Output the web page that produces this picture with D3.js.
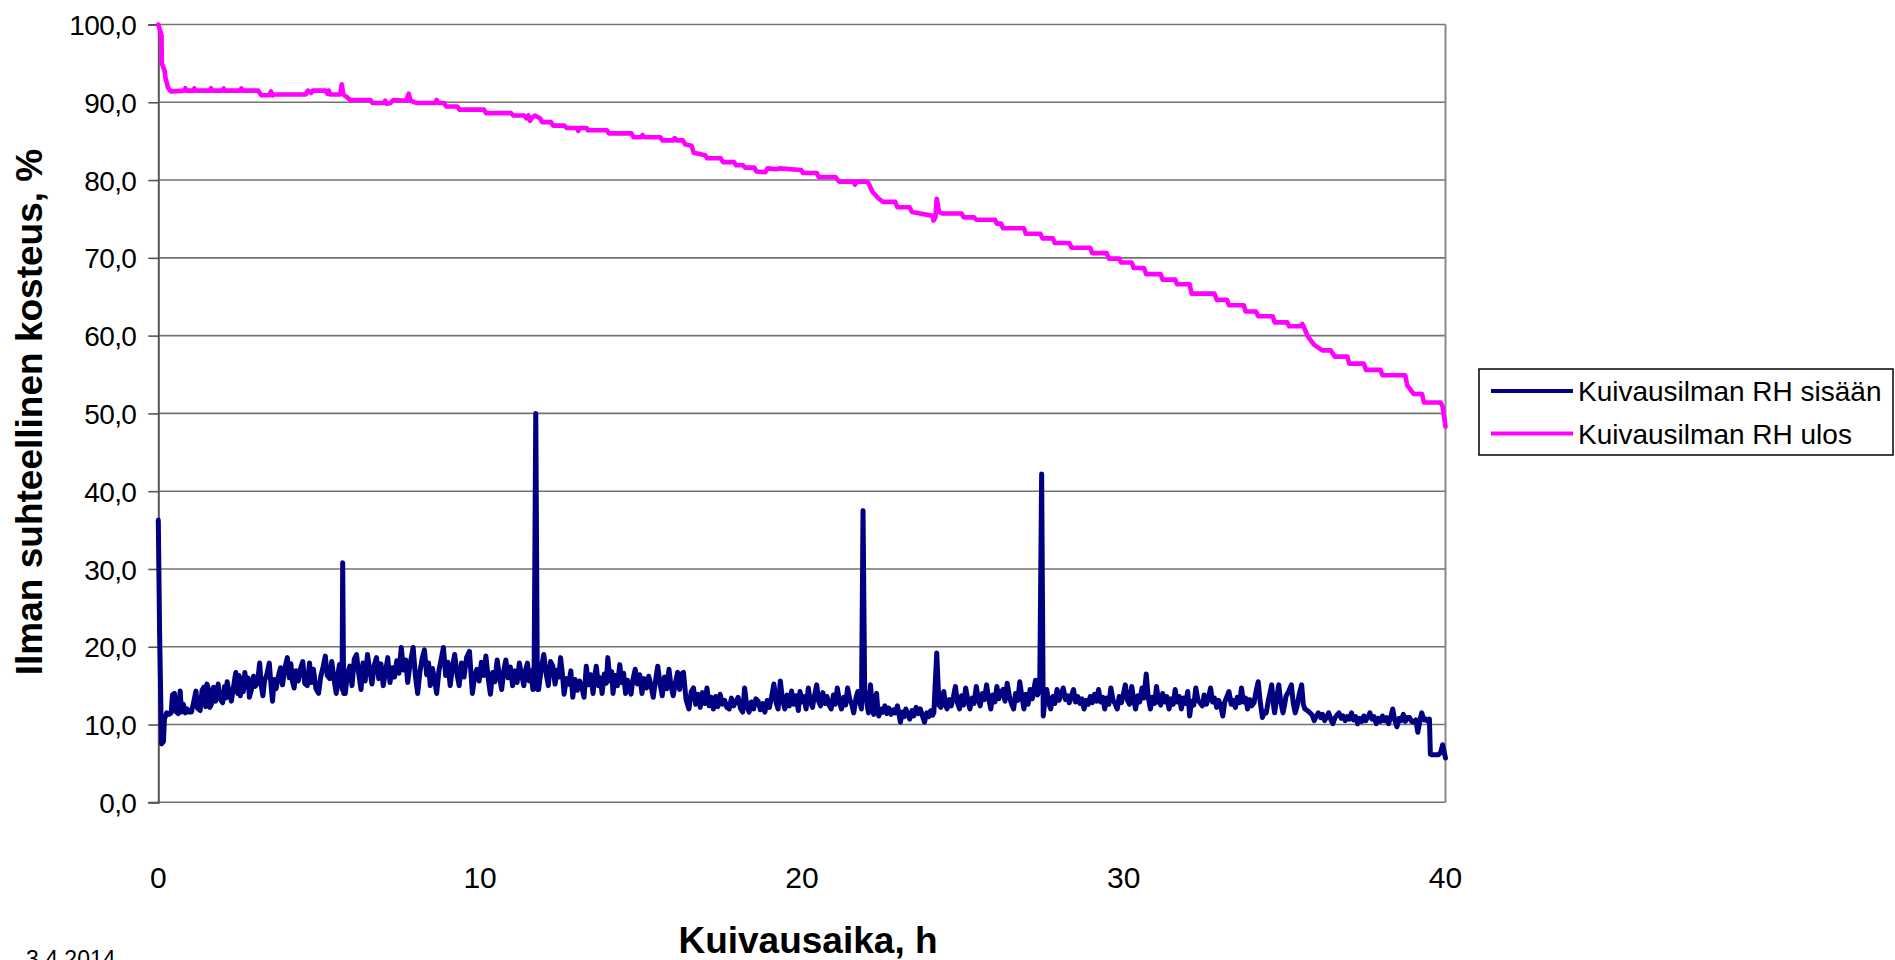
<!DOCTYPE html>
<html>
<head>
<meta charset="utf-8">
<script src="https://cdn.jsdelivr.net/npm/d3@7/dist/d3.min.js"></script>
<style>
  html, body { margin: 0; padding: 0; background: #fff; }
  svg { display: block; }
  text { font-family: "Liberation Sans", Arial, sans-serif; fill: #000; }
</style>
</head>
<body>
<svg id="chart" width="1895" height="960"></svg>
<script>
// Outgoing drying air: [drying time h, relative humidity %]
const rhOutlet = [
  [0,100],[0.1,98.6],[0.11,95],[0.2,94],[0.22,93.2],[0.3,91.9],[0.39,91.4],[0.8,91.5],[0.84,91.8],[0.88,91.5],
  [1.1,91.5],[1.12,91.8],[1.15,91.5],[1.6,91.5],[1.64,91.8],[1.68,91.5],[2.0,91.5],[2.03,91.8],[2.06,91.5],
  [2.55,91.5],[2.58,91.8],[2.62,91.5],[3.1,91.5],[3.2,90.9],[3.45,90.9],[3.5,91.4],[3.55,90.9],[3.61,91.0],
  [4.58,91.0],[4.65,91.5],[4.75,91.2],[4.8,91.5],[5.2,91.5],[5.25,91.1],[5.3,91.5],[5.34,91.0],[5.65,91.0],
  [5.7,92.3],[5.75,91.0],[5.85,90.7],[5.96,90.3],[6.59,90.3],[6.66,89.9],[7.0,89.9],[7.05,90.2],[7.1,89.8],
  [7.21,89.9],[7.3,90.3],[7.7,90.2],[7.78,91.1],[7.84,90.2],[8.04,89.9],[8.6,89.9],[8.65,90.3],[8.7,89.9],
  [8.88,89.9],[8.95,89.45],[9.29,89.45],[9.36,89.05],[10.12,89.05],[10.19,88.6],[10.96,88.6],[11.03,88.3],
  [11.37,88.3],[11.44,87.95],[11.5,88.3],[11.55,87.6],[11.6,87.95],[11.7,88.3],[11.86,87.95],[11.93,87.45],
  [12.2,87.45],[12.27,87.0],[12.62,87.0],[12.69,86.7],[13.0,86.7],[13.05,86.3],[13.1,86.7],[13.31,86.7],
  [13.35,86.4],[13.94,86.4],[14.0,86.0],[14.7,86.0],[14.77,85.5],[15.0,85.5],[15.05,85.8],[15.1,85.5],
  [15.6,85.5],[15.67,85.1],[16.0,85.1],[16.05,85.4],[16.1,85.1],[16.3,85.1],[16.37,84.6],[16.57,84.4],
  [16.64,83.5],[16.99,83.2],[17.06,82.8],[17.48,82.8],[17.55,82.3],[17.89,82.3],[17.96,81.9],[18.17,81.9],
  [18.24,81.6],[18.52,81.6],[18.59,81.1],[18.86,81.0],[18.93,81.5],[19.2,81.4],[19.3,81.5],[19.97,81.3],
  [20.04,80.9],[20.46,80.9],[20.52,80.4],[21.04,80.4],[21.16,79.8],[21.6,79.8],[21.65,79.4],[21.7,79.8],
  [22.0,79.8],[22.07,79.6],[22.19,78.5],[22.39,77.6],[22.52,77.2],[22.9,77.2],[22.97,76.5],[23.35,76.5],
  [23.42,75.9],[23.8,75.6],[24.06,75.4],[24.09,74.8],[24.15,75.2],[24.19,77.6],[24.26,75.9],[24.38,75.7],
  [24.96,75.7],[25.03,75.2],[25.35,75.2],[25.42,74.9],[26.0,74.9],[26.06,74.4],[26.19,74.4],[26.25,73.8],
  [26.9,73.8],[26.96,73.1],[27.41,73.1],[27.48,72.5],[27.8,72.5],[27.86,71.9],[28.31,71.9],[28.38,71.3],
  [28.96,71.3],[29.02,70.6],[29.47,70.6],[29.54,69.9],[29.86,69.9],[29.92,69.4],[30.25,69.4],[30.31,68.7],
  [30.63,68.7],[30.7,67.9],[31.15,67.9],[31.21,67.2],[31.6,67.2],[31.66,66.6],[32.05,66.6],[32.11,65.4],
  [32.82,65.4],[32.89,64.6],[33.21,64.6],[33.27,63.9],[33.73,63.9],[33.79,63.1],[34.11,63.1],[34.18,62.5],
  [34.63,62.5],[34.69,61.7],[35.08,61.7],[35.14,61.2],[35.5,61.2],[35.55,61.5],[35.6,61.1],[35.72,59.9],
  [35.92,58.8],[36.17,58.1],[36.43,58.1],[36.56,57.3],[36.95,57.3],[37.01,56.4],[37.46,56.4],[37.53,55.6],
  [37.98,55.6],[38.04,54.9],[38.75,54.9],[38.81,53.6],[39.01,52.5],[39.27,52.5],[39.33,51.4],[39.85,51.4],
  [39.91,50.9],[40.0,48.3]
];

// Incoming drying air: [drying time h, relative humidity %]
const rhInlet = [
  [0,36.3],[0.04,22],[0.1,7.5],[0.16,7.8],[0.19,10.7],[0.26,11.5],[0.33,11.3],[0.4,11.5],[0.44,13.8],[0.5,14.0],
  [0.56,11.6],[0.62,11.4],[0.68,14.3],[0.72,11.6],[0.78,12.6],[0.84,11.5],[0.9,12.0],[0.96,11.6],[1.03,11.6],[1.1,12.9],[1.17,14.3],
  [1.22,12.1],[1.3,11.8],[1.36,14.4],[1.42,14.8],[1.47,12.3],[1.51,15.2],[1.56,14.6],[1.6,12.2],[1.65,12.6],[1.72,14.8],[1.78,13.0],
  [1.86,15.2],[1.92,13.3],[2.0,12.8],[2.06,14.9],[2.1,13.4],[2.14,15.5],[2.2,14.2],[2.27,13.0],[2.33,14.6],[2.38,16.0],
  [2.41,16.7],[2.47,14.0],[2.51,16.3],[2.55,13.7],[2.6,15.9],[2.64,14.2],[2.69,16.7],[2.74,14.8],[2.79,16.0],[2.83,13.5],[2.9,14.6],[2.96,16.2],
  [3.01,14.9],[3.08,15.3],[3.15,17.9],[3.2,15.0],[3.25,13.7],[3.3,15.6],[3.37,16.4],[3.45,17.9],[3.5,15.2],[3.55,13.0],[3.6,15.8],
  [3.66,14.6],[3.73,16.2],[3.8,17.3],[3.86,15.1],[3.92,17.0],[4.01,18.6],
  [4.07,16.0],[4.12,17.8],[4.17,15.5],[4.22,14.7],[4.28,16.9],[4.35,15.6],[4.42,17.2],[4.49,18.1],[4.55,15.3],[4.63,15.0],[4.7,17.9],
  [4.76,15.4],[4.82,17.1],[4.9,14.6],[4.98,14.0],
  [5.05,16.2],[5.12,17.4],[5.19,18.8],[5.25,16.3],[5.33,15.9],[5.39,18.1],[5.46,15.8],[5.53,14.0],[5.58,16.4],[5.63,17.7],[5.71,14.5],
  [5.73,30.8],[5.76,14.0],
  [5.81,14.0],[5.88,16.6],[5.95,17.5],[6.02,15.0],[6.09,18.4],[6.16,19.0],[6.22,16.8],[6.3,14.5],[6.36,17.9],[6.43,15.6],[6.5,19.0],
  [6.57,17.0],[6.64,15.2],[6.71,17.6],[6.78,18.6],[6.85,15.9],[6.92,17.8],[6.99,15.0],[7.06,16.7],[7.13,18.6],[7.2,15.4],[7.27,17.3],
  [7.34,16.1],[7.41,18.2],[7.48,16.6],
  [7.55,19.9],[7.62,17.0],[7.69,18.3],[7.75,15.4],[7.82,17.7],[7.92,19.9],[7.99,16.2],[8.06,14.0],[8.13,16.8],[8.2,18.5],[8.27,19.6],
  [8.34,16.4],[8.4,17.9],[8.45,15.0],[8.52,17.2],[8.58,15.9],[8.65,14.0],[8.72,16.9],[8.79,18.4],[8.86,19.9],[8.93,16.3],[9.0,18.0],
  [9.07,15.0],[9.14,17.4],[9.21,19.0],[9.28,16.5],[9.35,15.0],[9.42,17.9],[9.5,16.1],[9.58,18.6],[9.67,19.4],[9.76,14.0],[9.83,16.2],
  [9.9,17.1],[9.97,15.6],[10.04,18.0],[10.11,16.3],[10.18,18.8],[10.25,16.0],[10.32,13.9],[10.39,16.7],[10.46,15.5],
  [10.53,18.3],[10.6,16.2],[10.67,14.5],[10.74,17.0],[10.8,18.3],[10.87,16.0],[10.94,17.4],[11.01,15.0],[11.08,16.9],[11.15,15.4],
  [11.22,17.9],[11.29,16.4],[11.36,15.0],[11.42,17.1],[11.47,17.9],[11.53,15.6],[11.58,16.9],[11.64,14.5],[11.68,17.9],
  [11.73,50.0],[11.78,14.5],
  [11.82,14.5],[11.9,17.2],[11.98,19.0],[12.05,16.6],[12.12,15.0],[12.19,18.1],[12.26,17.5],[12.33,15.2],[12.4,17.0],[12.45,16.1],
  [12.5,18.6],[12.56,16.4],
  [12.61,13.9],[12.68,15.9],[12.75,15.2],[12.82,16.9],[12.88,13.5],[12.95,15.8],[13.02,14.4],[13.09,15.6],[13.16,14.8],[13.23,13.5],
  [13.3,17.5],[13.37,15.1],[13.44,16.4],[13.51,14.0],[13.56,16.2],[13.61,17.5],[13.68,15.0],[13.74,16.0],[13.79,14.0],[13.86,16.5],
  [13.92,15.3],[13.97,18.6],
  [14.04,15.6],[14.09,16.8],[14.13,14.0],[14.2,16.3],[14.27,15.0],[14.34,17.7],[14.4,15.4],[14.46,16.6],[14.52,14.0],[14.58,15.7],
  [14.63,14.8],[14.69,13.9],[14.75,15.8],[14.82,17.1],[14.89,15.2],[14.96,16.4],[15.03,14.0],[15.1,15.9],[15.17,14.7],[15.24,16.2],
  [15.31,15.0],[15.38,13.5],[15.45,15.6],[15.52,17.5],[15.59,15.3],[15.66,13.7],[15.73,16.1],[15.8,14.6],[15.87,17.1],[15.93,15.0],
  [16.0,13.7],[16.07,15.4],[16.14,16.7],[16.2,14.5],[16.26,16.5],[16.32,16.7],
  [16.4,13.2],[16.49,12.0],[16.56,14.2],[16.63,14.7],[16.7,12.6],[16.77,13.9],[16.84,12.2],[16.91,14.1],[16.98,12.7],
  [17.05,14.7],[17.12,12.4],[17.18,13.5],[17.25,12.0],[17.32,13.6],[17.39,12.3],[17.46,13.9],[17.53,12.6],[17.6,13.1],[17.67,12.2],
  [17.74,12.0],[17.81,13.4],[17.88,12.4],[17.95,13.0],[18.02,13.5],[18.09,12.1],[18.16,11.6],[18.22,14.7],[18.29,12.3],[18.36,11.6],
  [18.43,12.9],[18.5,12.0],[18.57,13.3],[18.64,13.0],[18.71,11.9],[18.78,12.7],[18.85,11.6],[18.92,13.1],[18.99,12.2],
  [19.06,13.6],[19.13,15.2],[19.2,12.8],[19.26,12.0],[19.33,15.6],[19.4,13.1],[19.47,12.0],[19.54,13.8],[19.61,12.4],[19.68,14.3],
  [19.75,12.6],[19.82,13.7],[19.89,11.8],[19.94,14.25],[20.01,12.9],[20.07,13.6],[20.13,12.0],[20.2,14.7],[20.26,12.9],[20.33,12.2],
  [20.4,13.9],[20.46,15.1],[20.52,13.0],[20.58,12.4],[20.65,14.1],[20.72,12.7],[20.78,13.6],[20.84,12.5],[20.91,12.0],[20.98,13.8],
  [21.04,12.6],[21.1,14.7],[21.17,12.9],[21.23,12.0],[21.3,13.5],[21.36,12.5],[21.42,14.7],[21.49,13.2],[21.55,12.6],[21.61,11.5],
  [21.68,13.4],[21.74,14.25],[21.8,12.8],[21.85,12.0],[21.9,37.5],[21.95,14.5],
  [22.01,12.9],[22.07,11.5],[22.13,15.1],[22.18,12.6],[22.23,11.3],[22.28,13.2],[22.32,14.0],[22.36,11.8],[22.39,11.1],[22.46,12.0],
  [22.52,11.6],[22.58,12.4],[22.64,11.4],[22.7,12.1],[22.77,11.3],[22.84,11.9],[22.9,11.5],[22.97,12.4],[23.06,10.3],[23.12,11.6],
  [23.18,11.0],[23.23,12.0],[23.29,11.3],[23.35,10.7],[23.42,11.8],[23.48,11.1],[23.55,12.2],[23.62,11.4],[23.68,12.0],[23.74,11.2],
  [23.81,10.3],[23.88,11.5],[23.94,11.0],[24.0,11.75],[24.06,11.2],[24.1,11.5],[24.19,19.2],[24.26,12.5],
  [24.32,12.2],[24.37,13.3],[24.41,14.25],[24.46,12.6],[24.51,12.0],[24.58,13.2],[24.64,12.4],[24.71,13.6],[24.77,14.9],[24.83,12.8],
  [24.9,12.0],[24.96,13.7],[25.02,12.5],[25.09,14.7],[25.16,13.0],[25.22,12.0],[25.29,13.4],[25.35,12.7],[25.42,14.9],[25.48,13.3],
  [25.54,12.4],[25.61,14.0],[25.67,13.2],[25.74,15.1],[25.8,13.4],[25.87,12.0],[25.93,13.8],[26.0,12.9],[26.06,14.9],[26.12,13.3],
  [26.19,14.2],[26.25,14.5],[26.31,13.0],[26.38,15.3],[26.45,13.6],[26.51,12.7],[26.58,12.0],[26.64,14.0],[26.71,13.1],[26.77,15.5],
  [26.84,13.5],[26.9,12.0],[26.96,13.9],[27.03,12.6],[27.09,14.5],[27.16,13.3],[27.21,14.6],[27.26,15.7],[27.32,13.8],[27.39,14.5],
  [27.45,42.2],[27.5,11.1],
  [27.56,13.4],[27.61,14.5],[27.67,12.8],[27.73,12.0],[27.8,13.6],[27.86,12.7],[27.93,14.5],[27.99,13.1],[28.06,13.9],[28.12,14.7],
  [28.19,13.2],[28.25,13.7],[28.31,12.8],[28.38,13.8],[28.44,14.5],[28.5,12.9],[28.57,13.6],[28.64,12.7],[28.7,13.3],[28.77,12.0],
  [28.83,13.1],[28.9,12.6],[28.96,13.6],[29.03,12.8],[29.09,13.9],[29.16,13.0],[29.22,14.5],[29.28,12.9],[29.35,13.5],[29.41,12.0],
  [29.47,13.4],[29.54,12.6],[29.6,14.7],[29.67,13.1],[29.73,12.7],[29.8,12.0],[29.86,13.6],[29.93,12.8],[29.99,13.9],[30.05,15.1],
  [30.12,13.1],[30.18,12.6],[30.25,14.9],[30.31,13.2],[30.37,12.0],[30.44,13.7],[30.5,12.9],[30.57,14.7],[30.63,13.4],[30.7,16.5],
  [30.76,13.6],[30.83,12.0],[30.89,13.5],[30.96,12.7],[31.02,14.9],[31.08,13.0],[31.15,12.5],[31.21,14.0],[31.28,12.9],[31.34,13.6],
  [31.41,12.0],[31.47,13.3],[31.54,12.6],[31.6,14.5],[31.66,12.9],[31.73,13.6],[31.79,12.0],[31.86,13.4],[31.92,12.7],[31.99,14.25],
  [32.05,11.1],[32.11,13.0],[32.18,12.5],[32.24,14.7],[32.31,13.1],[32.37,12.8],[32.44,12.4],[32.5,13.8],[32.57,12.6],[32.63,13.4],
  [32.7,14.7],[32.76,12.9],[32.82,13.4],[32.89,12.2],[32.95,13.1],[33.02,12.3],[33.08,11.1],[33.14,12.9],[33.21,13.6],[33.27,14.25],
  [33.34,12.6],[33.4,13.1],[33.47,12.2],[33.53,13.5],[33.6,12.8],[33.66,14.7],[33.72,12.9],[33.79,13.4],[33.85,12.0],[33.92,13.2],
  [33.98,12.4],[34.05,12.8],
  [34.11,14.2],[34.18,15.5],[34.24,13.0],[34.31,10.9],[34.37,11.6],[34.43,11.5],[34.5,13.2],[34.55,14.1],[34.6,15.1],[34.65,12.6],
  [34.69,11.5],[34.75,13.4],[34.82,15.1],[34.88,12.9],[34.95,11.5],[35.0,12.5],[35.04,13.6],[35.12,14.2],[35.21,15.1],[35.27,12.7],
  [35.33,11.5],[35.39,12.4],[35.45,13.8],[35.53,15.1],[35.58,12.6],[35.63,12.0],
  [35.71,11.8],[35.79,11.5],[35.86,11.2],[35.92,10.5],[35.99,11.1],[36.05,11.5],[36.12,10.9],[36.18,11.3],[36.24,10.5],[36.31,11.0],
  [36.37,11.5],[36.44,10.6],[36.5,10.1],[36.57,10.9],[36.63,11.2],[36.69,11.5],[36.76,10.8],[36.82,11.1],[36.88,10.5],[36.95,11.0],
  [37.01,10.7],[37.08,11.5],[37.14,10.6],[37.21,11.0],[37.27,10.1],[37.33,10.8],[37.4,10.4],[37.46,11.1],[37.52,10.5],[37.59,11.0],
  [37.65,11.5],[37.72,10.7],[37.78,11.0],[37.85,10.1],[37.91,10.8],[37.98,10.4],[38.04,11.1],[38.11,10.5],[38.17,10.9],[38.23,10.1],
  [38.3,11.0],[38.36,12.0],[38.42,10.6],[38.49,9.7],[38.56,10.8],[38.62,10.5],[38.69,11.3],[38.75,10.4],[38.82,10.9],[38.88,10.9],
  [38.95,10.4],[39.01,10.3],[39.08,10.6],[39.14,9.0],[39.2,10.4],[39.26,11.5],[39.33,10.6],[39.39,10.7],[39.45,10.4],[39.5,10.7],
  [39.53,6.2],[39.59,6.1],[39.78,6.1],[39.85,6.4],[39.91,7.4],[40.0,5.7]
];

const xTicks = [0, 10, 20, 30, 40];
const yTicks = [0, 10, 20, 30, 40, 50, 60, 70, 80, 90, 100];
const seriesNames = ["Kuivausilman RH sisään", "Kuivausilman RH ulos"];
const seriesColors = ["#000080", "#ff00ff"];
const xTitle = "Kuivausaika, h";
const yTitle = "Ilman suhteellinen kosteus, %";
const dateText = "3.4.2014";

const svg = d3.select("#chart");
const x = d3.scaleLinear().domain([0, 40]).range([158.3, 1445.5]);
const y = d3.scaleLinear().domain([0, 100]).range([802.3, 24.5]);
const fmt = v => d3.format(".1f")(v).replace(".", ",");

// horizontal gridlines
svg.append("g")
  .selectAll("line").data(yTicks).join("line")
  .attr("x1", x(0)).attr("x2", x(40))
  .attr("y1", d => y(d)).attr("y2", d => y(d))
  .attr("stroke", "#737373").attr("stroke-width", 1.6);

// y axis with outside ticks
const yAxis = d3.axisLeft(y).tickValues(yTicks).tickSize(10).tickFormat(fmt).tickPadding(12);
const gy = svg.append("g").attr("transform", `translate(${x(0)},0)`).call(yAxis);
gy.select(".domain").attr("stroke", "#555").attr("stroke-width", 2);
gy.selectAll(".tick line").attr("stroke", "#555").attr("stroke-width", 1.6);
gy.selectAll(".tick text")
  .attr("font-family", "Liberation Sans, Arial, sans-serif")
  .attr("font-size", 28).attr("fill", "#000").attr("dy", "0.36em")
  .attr("letter-spacing", -0.6);

// right border of the plot area
svg.append("line")
  .attr("x1", x(40)).attr("x2", x(40)).attr("y1", y(100)).attr("y2", y(0))
  .attr("stroke", "#8a8a8a").attr("stroke-width", 2);

// x tick labels
svg.append("g").selectAll("text").data(xTicks).join("text")
  .attr("x", d => x(d)).attr("y", 888)
  .attr("text-anchor", "middle").attr("font-size", 30)
  .text(d => d);

// data lines
const line = d3.line().x(d => x(d[0])).y(d => y(d[1]));
svg.append("path").datum(rhInlet).attr("d", line)
  .attr("fill", "none").attr("stroke", seriesColors[0])
  .attr("stroke-width", 5).attr("stroke-linejoin", "round").attr("stroke-linecap", "round");
svg.append("path").datum(rhOutlet).attr("d", line)
  .attr("fill", "none").attr("stroke", seriesColors[1])
  .attr("stroke-width", 4.6).attr("stroke-linejoin", "round").attr("stroke-linecap", "round");

// axis titles
svg.append("text")
  .attr("x", 808).attr("y", 953)
  .attr("text-anchor", "middle").attr("font-weight", "bold").attr("font-size", 37)
  .text(xTitle);
svg.append("text")
  .attr("transform", "translate(42,412) rotate(-90)")
  .attr("text-anchor", "middle").attr("font-weight", "bold").attr("font-size", 37)
  .text(yTitle);

// date stamp at the bottom left
svg.append("text")
  .attr("x", 26).attr("y", 967).attr("font-size", 23)
  .text(dateText);

// legend
const lg = svg.append("g");
lg.append("rect")
  .attr("x", 1479).attr("y", 369).attr("width", 414).attr("height", 86)
  .attr("fill", "#fff").attr("stroke", "#000").attr("stroke-width", 1.5);
const rows = lg.selectAll("g.row").data(seriesNames).join("g")
  .attr("class", "row")
  .attr("transform", (d, i) => `translate(0,${391 + i * 42.5})`);
rows.append("line")
  .attr("x1", 1491).attr("x2", 1573).attr("y1", 0).attr("y2", 0)
  .attr("stroke", (d, i) => seriesColors[i]).attr("stroke-width", 4);
rows.append("text")
  .attr("x", 1578).attr("y", 0).attr("dy", "0.36em")
  .attr("font-size", 28)
  .text(d => d);
</script>
</body>
</html>
